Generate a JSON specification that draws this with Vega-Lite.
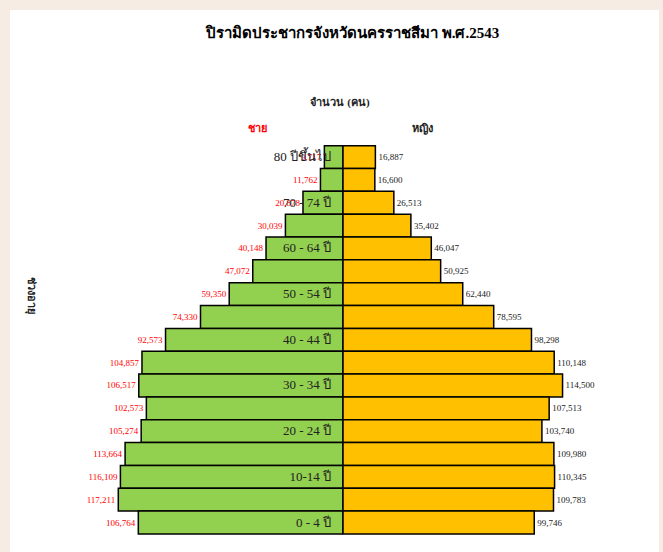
{
  "$schema": "https://vega.github.io/schema/vega-lite/v6.json",
  "background": "#F7ECE3",
  "padding": {"left": 10, "top": 10, "right": 4, "bottom": 0},
  "spacing": 0,
  "bounds": "flush",
  "config": {
    "view": {"fill": "white", "stroke": null},
    "font": "Liberation Serif",
    "axis": {"grid": false}
  },
  "title": {
    "text": "ปิรามิดประชากรจังหวัดนครราชสีมา พ.ศ.2543",
    "font": "Liberation Serif",
    "fontSize": 15,
    "fontWeight": "bold",
    "color": "#000000",
    "anchor": "middle",
    "dx": 18,
    "offset": -31
  },
  "data": {
    "values": [
      {"age": "80+", "label": "80 ปีขึ้นไป", "male": 9717, "female": 16887},
      {"age": "75-79", "label": "", "male": 11762, "female": 16600},
      {"age": "70-74", "label": "70 - 74 ปี", "male": 20878, "female": 26513},
      {"age": "65-69", "label": "", "male": 30039, "female": 35402},
      {"age": "60-64", "label": "60 - 64 ปี", "male": 40148, "female": 46047},
      {"age": "55-59", "label": "", "male": 47072, "female": 50925},
      {"age": "50-54", "label": "50 - 54 ปี", "male": 59350, "female": 62440},
      {"age": "45-49", "label": "", "male": 74330, "female": 78595},
      {"age": "40-44", "label": "40 - 44 ปี", "male": 92573, "female": 98298},
      {"age": "35-39", "label": "", "male": 104857, "female": 110148},
      {"age": "30-34", "label": "30 - 34 ปี", "male": 106517, "female": 114500},
      {"age": "25-29", "label": "", "male": 102573, "female": 107513},
      {"age": "20-24", "label": "20 - 24 ปี", "male": 105274, "female": 103740},
      {"age": "15-19", "label": "", "male": 113664, "female": 109980},
      {"age": "10-14", "label": "10-14 ปี", "male": 116109, "female": 110345},
      {"age": "5-9", "label": "", "male": 117211, "female": 109783},
      {"age": "0-4", "label": "0 - 4 ปี", "male": 106764, "female": 99746}
    ]
  },
  "hconcat": [
    {
      "width": 333,
      "height": 542,
      "encoding": {
        "y": {
          "field": "age",
          "type": "nominal",
          "scale": {
            "domain": ["t5", "t4", "t3", "t2", "t1", "80+", "75-79", "70-74", "65-69", "60-64", "55-59", "50-54", "45-49", "40-44", "35-39", "30-34", "25-29", "20-24", "15-19", "10-14", "5-9", "0-4"],
            "paddingInner": 0,
            "paddingOuter": 0.865,
            "align": 0.543
          },
          "axis": {
            "title": "ช่วงอายุ",
            "labels": false,
            "ticks": false,
            "domain": false,
            "titleAngle": 90,
            "titleX": 20,
            "titleY": 285,
            "titleAlign": "center",
            "titleBaseline": "middle",
            "titleFont": "Liberation Serif",
            "titleFontSize": 11,
            "titleFontWeight": "bold",
            "titleColor": "#222222"
          }
        }
      },
      "layer": [
        {
          "mark": {"type": "bar", "fill": "#92D050", "stroke": "#000000", "strokeWidth": 1.5},
          "encoding": {
            "x": {"field": "male", "type": "quantitative", "scale": {"domain": [0, 173700], "reverse": true, "nice": false, "zero": true}, "axis": null}
          }
        },
        {
          "mark": {"type": "text", "align": "right", "baseline": "middle", "dx": -3, "fontSize": 9, "color": "#FF0000"},
          "encoding": {
            "x": {"field": "male", "type": "quantitative"},
            "text": {"field": "male", "type": "quantitative", "format": ","}
          }
        },
        {
          "mark": {"type": "text", "align": "right", "baseline": "middle", "dx": -12, "fontSize": 13, "color": "#222222"},
          "encoding": {
            "x": {"datum": 0, "type": "quantitative"},
            "text": {"field": "label", "type": "nominal"}
          }
        },
        {
          "data": {"values": [{}]},
          "mark": {"type": "text", "text": "ชาย", "align": "center", "baseline": "middle", "dy": -5, "fontSize": 11, "fontWeight": "bold", "color": "#FF0000"},
          "encoding": {
            "x": {"datum": 44850, "type": "quantitative"},
            "y": {"datum": "t1", "type": "nominal"}
          }
        }
      ]
    },
    {
      "width": 316,
      "height": 542,
      "encoding": {
        "y": {
          "field": "age",
          "type": "nominal",
          "scale": {
            "domain": ["t5", "t4", "t3", "t2", "t1", "80+", "75-79", "70-74", "65-69", "60-64", "55-59", "50-54", "45-49", "40-44", "35-39", "30-34", "25-29", "20-24", "15-19", "10-14", "5-9", "0-4"],
            "paddingInner": 0,
            "paddingOuter": 0.865,
            "align": 0.543
          },
          "axis": null
        }
      },
      "layer": [
        {
          "mark": {"type": "bar", "fill": "#FFC000", "stroke": "#000000", "strokeWidth": 1.5},
          "encoding": {
            "x": {"field": "female", "type": "quantitative", "scale": {"domain": [0, 164800], "nice": false, "zero": true}, "axis": null}
          }
        },
        {
          "mark": {"type": "text", "align": "left", "baseline": "middle", "dx": 3, "fontSize": 9, "color": "#222222"},
          "encoding": {
            "x": {"field": "female", "type": "quantitative"},
            "text": {"field": "female", "type": "quantitative", "format": ","}
          }
        },
        {
          "data": {"values": [{}]},
          "mark": {"type": "text", "text": "หญิง", "align": "center", "baseline": "middle", "dy": -5, "fontSize": 11, "fontWeight": "bold", "color": "#222222"},
          "encoding": {
            "x": {"datum": 41700, "type": "quantitative"},
            "y": {"datum": "t1", "type": "nominal"}
          }
        },
        {
          "data": {"values": [{}]},
          "mark": {"type": "text", "text": "จำนวน (คน)", "align": "center", "baseline": "middle", "dx": -3, "dy": -8, "fontSize": 11, "fontWeight": "bold", "color": "#222222"},
          "encoding": {
            "x": {"datum": 0, "type": "quantitative"},
            "y": {"datum": "t2", "type": "nominal"}
          }
        }
      ]
    }
  ]
}
